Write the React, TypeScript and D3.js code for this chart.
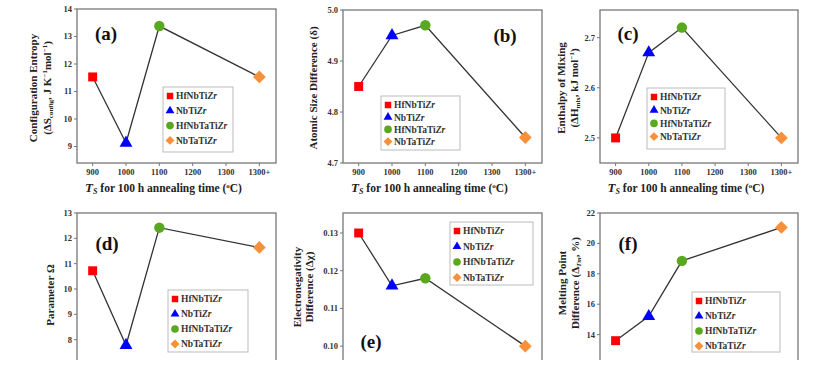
import React from "react";
import * as d3 from "d3";

const alloys = ["HfNbTiZr", "NbTiZr", "HfNbTaTiZr", "NbTaTiZr"];
const temps = [900, 1000, 1100, 1400];
const xTicks = [900, 1000, 1100, 1200, 1300, 1400];
const xTickLabels = ["900", "1000", "1100", "1200", "1300", "1300+"];

const entropy = [11.53, 9.13, 13.38, 11.53];
const atomicSize = [4.85, 4.95, 4.97, 4.75];
const enthalpy = [2.5, 2.67, 2.72, 2.5];
const omega = [10.72, 7.78, 12.42, 11.64];
const electroneg = [0.13, 0.116, 0.118, 0.1];
const meltDiff = [13.6, 15.2, 18.85, 21.05];

const ticksA = [9, 10, 11, 12, 13, 14];
const ticksB = [4.7, 4.8, 4.9, 5.0];
const ticksC = [2.5, 2.6, 2.7];
const ticksD = [8, 9, 10, 11, 12, 13];
const ticksE = [0.1, 0.11, 0.12, 0.13];
const ticksF = [14, 16, 18, 20, 22];

const shapes = [d3.symbolSquare, d3.symbolTriangle, d3.symbolCircle, d3.symbolSquare];
const rotations = [0, 0, 0, 45];
const sizes = [80, 72, 85, 82];
const legendSizes = [42, 34, 46, 40];
const colors = ["#ff0000", "#0000ff", "#5aa81f", "#f7903a"];

const FONT = "'Liberation Serif', 'Times New Roman', serif";

type PanelDef = {
  values: number[];
  domain: [number, number];
  ticks: number[];
  fmt: (v: number) => string;
  x0: number; x1: number; y0: number; y1: number;
  label: string; lx: number; ly: number;
  leg: [number, number, number, number];
  legStep: number;
  title: React.ReactNode[];
  titleX: number[];
  titleY: number;
  showX: boolean;
};

const panels: PanelDef[] = [
  {
    values: entropy, domain: [8.4, 14], ticks: ticksA, fmt: d3.format("d"),
    x0: 77, x1: 276, y0: 9, y1: 163, label: "(a)", lx: 106, ly: 40,
    leg: [163, 87, 70, 65], legStep: 14.8,
    title: [
      <tspan>Configuration Entropy</tspan>,
      <>
        <tspan>(ΔS</tspan>
        <tspan fontSize="7" dy="2">config</tspan>
        <tspan dy="-2">, J K</tspan>
        <tspan fontSize="7" dy="-4">−1</tspan>
        <tspan dy="4">mol</tspan>
        <tspan fontSize="7" dy="-4">−1</tspan>
        <tspan dy="4">)</tspan>
      </>,
    ],
    titleX: [37, 51], titleY: 88, showX: true,
  },
  {
    values: atomicSize, domain: [4.7, 5.0], ticks: ticksB, fmt: d3.format(".1f"),
    x0: 343, x1: 542, y0: 10, y1: 163, label: "(b)", lx: 505, ly: 42,
    leg: [381, 96, 79, 54], legStep: 12.2,
    title: [<tspan>Atomic Size Difference (δ)</tspan>],
    titleX: [317], titleY: 88, showX: true,
  },
  {
    values: enthalpy, domain: [2.45, 2.755], ticks: ticksC, fmt: d3.format(".1f"),
    x0: 600, x1: 798, y0: 10, y1: 163, label: "(c)", lx: 628, ly: 40,
    leg: [647, 88, 78, 61], legStep: 13.2,
    title: [
      <tspan>Enthalpy of Mixing</tspan>,
      <>
        <tspan>(ΔH</tspan>
        <tspan fontSize="7" dy="2">mix</tspan>
        <tspan dy="-2">, kJ mol</tspan>
        <tspan fontSize="7" dy="-4">−1</tspan>
        <tspan dy="4">)</tspan>
      </>,
    ],
    titleX: [565, 578], titleY: 88, showX: true,
  },
  {
    values: omega, domain: [7, 13], ticks: ticksD, fmt: d3.format("d"),
    x0: 77, x1: 276, y0: 213, y1: 365, label: "(d)", lx: 107, ly: 250,
    leg: [168, 290, 80, 62], legStep: 15,
    title: [<tspan>Parameter Ω</tspan>],
    titleX: [54], titleY: 295, showX: false,
  },
  {
    values: electroneg, domain: [0.095, 0.1353], ticks: ticksE, fmt: d3.format(".2f"),
    x0: 343, x1: 542, y0: 213, y1: 365, label: "(e)", lx: 371, ly: 348,
    leg: [450, 222, 83, 63], legStep: 15.5,
    title: [
      <tspan>Electronegativity</tspan>,
      <tspan>Difference (Δχ)</tspan>,
    ],
    titleX: [301, 313], titleY: 287, showX: false,
  },
  {
    values: meltDiff, domain: [12, 22], ticks: ticksF, fmt: d3.format("d"),
    x0: 600, x1: 798, y0: 213, y1: 365, label: "(f)", lx: 628, ly: 250,
    leg: [692, 292, 88, 60], legStep: 15,
    title: [
      <tspan>Melting Point</tspan>,
      <>
        <tspan>Difference (Δ</tspan>
        <tspan fontSize="7" dy="2" fontStyle="italic">Tm</tspan>
        <tspan dy="-2">, %)</tspan>
      </>,
    ],
    titleX: [566, 579], titleY: 283, showX: false,
  },
];

function Panel({ p }: { p: PanelDef }) {
  const x = d3.scaleLinear().domain([853, 1450]).range([p.x0, p.x1]);
  const y = d3.scaleLinear().domain(p.domain).range([p.y1, p.y0]);
  const line = d3
    .line<number>()
    .x((_, i) => x(temps[i]))
    .y((v) => y(v));
  const [lgx, lgy, lgw, lgh] = p.leg;
  return (
    <g clipPath={p.showX ? undefined : "url(#clipBottom)"}>
      <rect x={p.x0} y={p.y0} width={p.x1 - p.x0} height={p.y1 - p.y0} fill="none" stroke="#777" strokeWidth={1.3} />
      {p.ticks.map((t) => (
        <g key={t}>
          <line x1={p.x0 - 3} x2={p.x0} y1={y(t)} y2={y(t)} stroke="#777" />
          <text x={p.x0 - 5} y={y(t)} dy="0.35em" textAnchor="end" fontSize={8.5} fontWeight="bold" fill="#333" fontFamily={FONT}>
            {p.fmt(t)}
          </text>
        </g>
      ))}
      {p.showX &&
        xTicks.map((t, i) => (
          <g key={t}>
            <line x1={x(t)} x2={x(t)} y1={p.y1} y2={p.y1 + 3} stroke="#777" />
            <text x={x(t)} y={p.y1 + 12} textAnchor="middle" fontSize={8.5} fontWeight="bold" fill="#333" fontFamily={FONT}>
              {xTickLabels[i]}
            </text>
          </g>
        ))}
      {p.showX && (
        <text x={(p.x0 + p.x1) / 2 - 13} y={p.y1 + 29} textAnchor="middle" fontSize={11.5} fontWeight="bold" fill="#222" fontFamily={FONT}>
          <tspan fontStyle="italic" fontSize={13}>T</tspan>
          <tspan fontStyle="italic" fontSize={8} dy="2">S</tspan>
          <tspan dy="-2"> for 100 h annealing time (</tspan>
          <tspan fontSize={7} dy="-4">o</tspan>
          <tspan dy="4">C)</tspan>
        </text>
      )}
      {p.title.map((t, i) => (
        <text
          key={i}
          transform={`translate(${p.titleX[i]},${p.titleY}) rotate(-90)`}
          textAnchor="middle"
          fontSize={11}
          fontWeight="bold"
          fill="#222"
          fontFamily={FONT}
        >
          {t}
        </text>
      ))}
      <path d={line(p.values) || ""} fill="none" stroke="#333" strokeWidth={1.3} />
      {p.values.map((v, i) => (
        <path
          key={i}
          d={d3.symbol().type(shapes[i]).size(sizes[i])() || ""}
          transform={`translate(${x(temps[i])},${y(v)}) rotate(${rotations[i]})`}
          fill={colors[i]}
        />
      ))}
      <text x={p.lx} y={p.ly} textAnchor="middle" fontSize={19} fontWeight="bold" fill="#111" fontFamily={FONT}>
        {p.label}
      </text>
      <rect x={lgx} y={lgy} width={lgw} height={lgh} fill="#fff" stroke="#bbb" strokeWidth={1} />
      {alloys.map((a, i) => {
        const cy = lgy + 9 + i * p.legStep;
        return (
          <g key={a}>
            <path
              d={d3.symbol().type(shapes[i]).size(legendSizes[i])() || ""}
              transform={`translate(${lgx + 7},${cy}) rotate(${rotations[i]})`}
              fill={colors[i]}
            />
            <text x={lgx + 13} y={cy} dy="0.35em" fontSize={9.5} fontWeight="bold" fill="#333" fontFamily={FONT}>
              {a.slice(0, -2)}
              <tspan fontStyle="italic">{a.slice(-2)}</tspan>
            </text>
          </g>
        );
      })}
    </g>
  );
}

export default function App() {
  return (
    <svg width={831} height={385} style={{ position: "absolute", left: 0, top: 0, background: "#fff" }}>
      <defs>
        <clipPath id="clipBottom">
          <rect x={0} y={0} width={831} height={360} />
        </clipPath>
      </defs>
      <rect width={831} height={385} fill="#fff" />
      {panels.map((p, i) => (
        <Panel key={i} p={p} />
      ))}
    </svg>
  );
}
